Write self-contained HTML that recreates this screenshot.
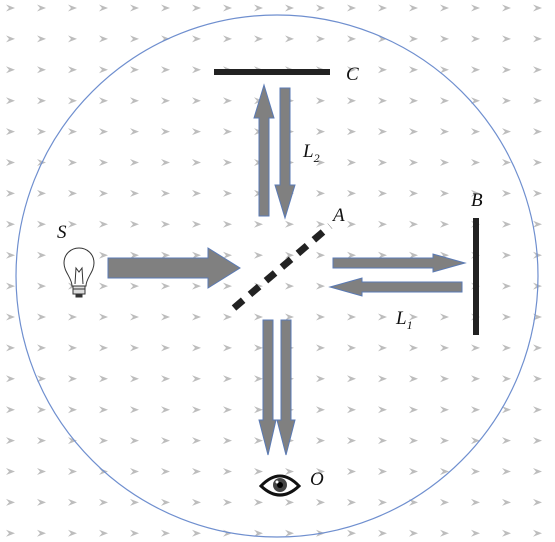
<!DOCTYPE html>
<html><head><meta charset="utf-8"><style>
html,body{margin:0;padding:0;background:#fff}
svg{display:block}
text{font-family:"Liberation Serif",serif;font-style:italic;font-size:19px;fill:#111}
</style></head><body>
<svg width="555" height="542" viewBox="0 0 555 542">
<g id="bg"></g>
<circle cx="277" cy="276" r="261" fill="none" stroke="#6f8fcf" stroke-width="1.2"/>
<g fill="#808080" stroke="#5a7ab5" stroke-width="1">
<polygon points="108,258 208,258 208,248 240,268 208,288 208,278 108,278"/>
<polygon points="259,216 259,118 254,118 264,85 274,118 269,118 269,216"/>
<polygon points="280,88 290,88 290,185 295,185 285,218 275,185 280,185"/>
<polygon points="333,258 433,258 433,254 465,263 433,272 433,268 333,268"/>
<polygon points="462,282 362,282 362,278 330,287 362,296 362,292 462,292"/>
<polygon points="263,320 273,320 273,420 276,420 268,455 259,420 263,420"/>
<polygon points="281,320 291,320 291,420 295,420 286,455 277,420 281,420"/>
</g>
<rect x="214" y="69" width="116" height="6" fill="#222"/>
<rect x="473" y="218" width="6" height="117" fill="#222"/>
<line x1="234" y1="308" x2="330" y2="226" stroke="#222" stroke-width="7" stroke-dasharray="12,9"/>
<text x="346" y="80">C</text>
<text x="303" y="157">L<tspan font-size="12" dy="5">2</tspan></text>
<text x="333" y="221">A</text>
<text x="471" y="206">B</text>
<text x="57" y="238">S</text>
<text x="396" y="324">L<tspan font-size="12" dy="5">1</tspan></text>
<text x="310" y="485">O</text>
<g fill="none" stroke="#333" stroke-width="1">
<path d="M72,286 C72,278 64,272 64,263 C64,254 71,248 79,248 C87,248 94,254 94,263 C94,272 86,278 86,286 Z" fill="#fff"/>
<path d="M75,284 L76,268 L79,272 L82,268 L83,284"/>
<rect x="73" y="286" width="12" height="8" fill="#ddd"/>
<line x1="73" y1="289" x2="85" y2="289"/>
<rect x="76" y="294" width="6" height="3" fill="#333"/>
</g>
<g>
<path d="M261,486 Q280,466 299,486 Q280,504 261,486 Z" fill="#fff" stroke="#111" stroke-width="3"/>
<circle cx="280" cy="485" r="7" fill="#444"/>
<circle cx="280" cy="485" r="3" fill="#000"/>
<circle cx="277" cy="482" r="1.5" fill="#fff"/>
</g>
</svg>
<script>
var g=document.getElementById('bg');
for(var r=0;r<18;r++){for(var c=0;c<18;c++){
var x=10+c*31,y=8+r*30.9;
var p=document.createElementNS('http://www.w3.org/2000/svg','polygon');
p.setAttribute('points',(x-4)+','+(y-3.5)+' '+(x+5)+','+y+' '+(x-4)+','+(y+3.5)+' '+(x-1)+','+y);
p.setAttribute('fill','#bdbdbd');


g.appendChild(p);}}
</script>
</body></html>
